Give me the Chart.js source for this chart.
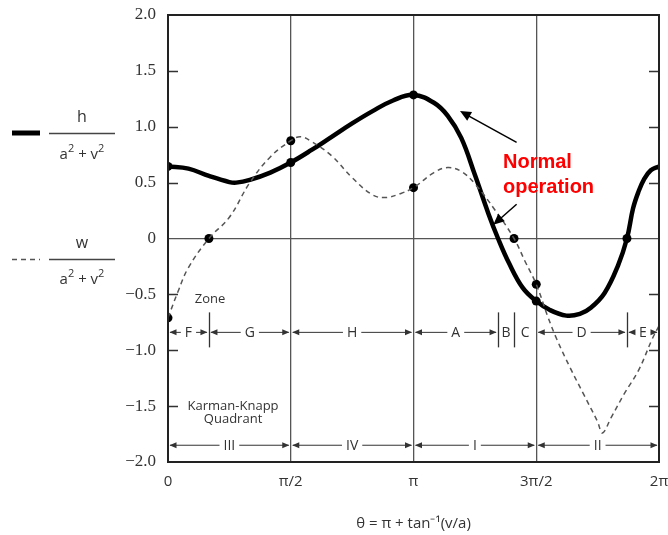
<!DOCTYPE html>
<html>
<head>
<meta charset="utf-8">
<script src="https://cdn.jsdelivr.net/npm/chart.js@4.4.0/dist/chart.umd.min.js"></script>
<style>
  html, body { margin: 0; padding: 0; background: #fff; }
  canvas { display: block; }
</style>
</head>
<body>
<canvas id="chart" width="668" height="535"></canvas>
<script>
// theta is kept in degrees: 0..360 stands for 0..2π
const hTheta = [0, 15, 30, 45, 50, 60, 75, 90, 105, 120, 135, 150, 165, 180, 195, 205, 215, 225, 235, 242, 250, 260, 270, 280, 292, 302, 310, 320, 330, 336.5, 341, 345, 349, 354, 360];
const hValues = [0.645, 0.625, 0.56, 0.505, 0.5, 0.525, 0.59, 0.68, 0.79, 0.91, 1.03, 1.14, 1.235, 1.285, 1.215, 1.1, 0.9, 0.57, 0.22, 0, -0.22, -0.44, -0.56, -0.64, -0.69, -0.675, -0.62, -0.49, -0.24, 0, 0.27, 0.42, 0.53, 0.61, 0.645];

const wTheta = [0, 7.5, 15, 30, 45, 60, 75, 90, 97, 105, 120, 135, 150, 160, 170, 180, 195, 205, 215, 225, 240, 253.7, 262, 270, 278.5, 285, 295, 305, 315, 318.5, 325, 335, 345, 355, 360];
const wValues = [-0.71, -0.47, -0.26, 0, 0.19, 0.5, 0.73, 0.875, 0.91, 0.87, 0.74, 0.545, 0.39, 0.367, 0.4, 0.455, 0.59, 0.635, 0.6, 0.49, 0.25, 0, -0.21, -0.41, -0.7, -0.9, -1.16, -1.4, -1.64, -1.74, -1.6, -1.38, -1.18, -0.9, -0.78];

// marked points
const hDotTheta = [0, 90, 180, 270, 336.5];
const hDotValues = [0.645, 0.68, 1.285, -0.56, 0];
const wDotTheta = [0, 30, 90, 180, 253.7, 270];
const wDotValues = [-0.71, 0, 0.875, 0.455, 0, -0.41];

const xTickLabels = ["0", "π/2", "π", "3π/2", "2π"];
const yTickLabels = ["−2.0", "−1.5", "−1.0", "−0.5", "0", "0.5", "1.0", "1.5", "2.0"];

// zone and quadrant bands along the bottom
const zoneEdges = [0, 30, 90, 180, 242, 253.7, 270, 336.5, 360];
const zoneNames = ["F", "G", "H", "A", "B", "C", "D", "E"];
const zoneRow = -0.84;
const quadrantEdges = [0, 90, 180, 270, 360];
const quadrantNames = ["III", "IV", "I", "II"];
const quadrantRow = -1.85;

const toXY = (xs, ys) => xs.map((x, i) => ({ x: x, y: ys[i] }));

function arrowHead(ctx, tx, ty, dx, dy, len, hw) {
  const m = Math.hypot(dx, dy);
  const ux = dx / m, uy = dy / m;
  ctx.beginPath();
  ctx.moveTo(tx, ty);
  ctx.lineTo(tx - ux * len - uy * hw, ty - uy * len + ux * hw);
  ctx.lineTo(tx - ux * len + uy * hw, ty - uy * len - ux * hw);
  ctx.closePath();
  ctx.fill();
}

function drawBand(ctx, xs, y, edges, names, tickEdges) {
  ctx.save();
  ctx.font = '14px "Open Sans", sans-serif';
  ctx.textAlign = "center";
  ctx.textBaseline = "middle";
  ctx.strokeStyle = "#333";
  ctx.fillStyle = "#333";
  ctx.lineWidth = 1;
  for (let i = 0; i < names.length; i++) {
    const x0 = xs.getPixelForValue(edges[i]);
    const x1 = xs.getPixelForValue(edges[i + 1]);
    const cx = (x0 + x1) / 2;
    const tw = ctx.measureText(names[i]).width;
    ctx.fillText(names[i], cx, y + 1);
    const gap = 4;
    const left = cx - tw / 2 - gap;
    const right = cx + tw / 2 + gap;
    if (left - x0 > 4) {
      ctx.beginPath();
      ctx.moveTo(x0 + 2, y);
      ctx.lineTo(left, y);
      ctx.stroke();
      arrowHead(ctx, x0 + 1.5, y, -1, 0, 7, 3);
    }
    if (x1 - right > 4) {
      ctx.beginPath();
      ctx.moveTo(right, y);
      ctx.lineTo(x1 - 2, y);
      ctx.stroke();
      arrowHead(ctx, x1 - 1.5, y, 1, 0, 7, 3);
    }
  }
  ctx.lineWidth = 1.3;
  tickEdges.forEach((e) => {
    const x = Math.round(xs.getPixelForValue(e)) + 0.5;
    ctx.beginPath();
    ctx.moveTo(x, y - 20);
    ctx.lineTo(x, y + 15);
    ctx.stroke();
  });
  ctx.restore();
}

// "a² + v²" with real raised exponents
function denominator(ctx, cx, y) {
  const big = '15px "Open Sans", sans-serif';
  const small = '11px "Open Sans", sans-serif';
  const parts = [["a", big, 0], ["2", small, -6], [" + v", big, 0], ["2", small, -6]];
  let total = 0;
  parts.forEach((p) => { ctx.font = p[1]; total += ctx.measureText(p[0]).width; });
  let x = cx - total / 2;
  ctx.textAlign = "left";
  parts.forEach((p) => {
    ctx.font = p[1];
    ctx.fillText(p[0], x, y + p[2]);
    x += ctx.measureText(p[0]).width;
  });
}

const overlay = {
  id: "overlay",
  afterDatasetsDraw(chart) {
    const ctx = chart.ctx;
    const xs = chart.scales.x;
    const ys = chart.scales.y;
    const a = chart.chartArea;

    // inward ticks on both sides
    ctx.save();
    ctx.strokeStyle = "#333";
    ctx.lineWidth = 1.3;
    [-1.5, -1, -0.5, 0.5, 1, 1.5].forEach((v) => {
      const y = Math.round(ys.getPixelForValue(v)) + 0.5;
      ctx.beginPath();
      ctx.moveTo(a.left, y);
      ctx.lineTo(a.left + 10, y);
      ctx.moveTo(a.right, y);
      ctx.lineTo(a.right - 10, y);
      ctx.stroke();
    });
    ctx.restore();

    // zones and quadrants
    drawBand(ctx, xs, ys.getPixelForValue(zoneRow), zoneEdges, zoneNames, [30, 242, 253.7, 336.5]);
    drawBand(ctx, xs, ys.getPixelForValue(quadrantRow), quadrantEdges, quadrantNames, []);

    ctx.save();
    ctx.fillStyle = "#333";
    ctx.font = '13px "Open Sans", sans-serif';
    ctx.textAlign = "center";
    ctx.textBaseline = "middle";
    ctx.fillText("Zone", xs.getPixelForValue(30.8), ys.getPixelForValue(-0.54));
    ctx.fillText("Karman-Knapp", xs.getPixelForValue(47.7), ys.getPixelForValue(-1.5));
    ctx.fillText("Quadrant", xs.getPixelForValue(47.7), ys.getPixelForValue(-1.62));
    ctx.restore();

    // frame
    ctx.save();
    ctx.strokeStyle = "#222";
    ctx.lineWidth = 2;
    ctx.strokeRect(a.left, a.top, a.right - a.left, a.bottom - a.top);
    ctx.restore();

    // annotation
    ctx.save();
    ctx.fillStyle = "#ff0000";
    ctx.font = 'bold 20px "Liberation Sans", Arial, sans-serif';
    ctx.textAlign = "left";
    ctx.textBaseline = "alphabetic";
    ctx.fillText("Normal", xs.getPixelForValue(245.6), ys.getPixelForValue(0.632));
    ctx.fillText("operation", xs.getPixelForValue(245.6), ys.getPixelForValue(0.41));
    ctx.strokeStyle = "#000";
    ctx.fillStyle = "#000";
    ctx.lineWidth = 1.5;
    [[255.6, 0.86, 214.1, 1.14], [255.6, 0.307, 238.5, 0.122]].forEach((p) => {
      const x0 = xs.getPixelForValue(p[0]), y0 = ys.getPixelForValue(p[1]);
      const x1 = xs.getPixelForValue(p[2]), y1 = ys.getPixelForValue(p[3]);
      ctx.beginPath();
      ctx.moveTo(x0, y0);
      ctx.lineTo(x1 + (x0 - x1) * 0.15, y1 + (y0 - y1) * 0.15);
      ctx.stroke();
      arrowHead(ctx, x1, y1, x1 - x0, y1 - y0, 11, 5);
    });
    ctx.restore();
  },
  afterDraw(chart) {
    // left-hand key
    const ctx = chart.ctx;
    ctx.save();
    ctx.strokeStyle = "#000";
    ctx.lineWidth = 5;
    ctx.beginPath();
    ctx.moveTo(12, 133);
    ctx.lineTo(40, 133);
    ctx.stroke();
    ctx.strokeStyle = "#555";
    ctx.lineWidth = 1.5;
    ctx.setLineDash([5, 4]);
    ctx.beginPath();
    ctx.moveTo(12, 259.5);
    ctx.lineTo(40, 259.5);
    ctx.stroke();
    ctx.setLineDash([]);
    ctx.strokeStyle = "#444";
    ctx.lineWidth = 1.3;
    [133.5, 259.5].forEach((y) => {
      ctx.beginPath();
      ctx.moveTo(49, y);
      ctx.lineTo(115, y);
      ctx.stroke();
    });
    ctx.fillStyle = "#333";
    ctx.font = '16px "Open Sans", sans-serif';
    ctx.textAlign = "center";
    ctx.textBaseline = "middle";
    ctx.fillText("h", 82, 117);
    ctx.fillText("w", 82, 243);
    denominator(ctx, 82, 155);
    denominator(ctx, 82, 280);
    ctx.restore();
  },
};

new Chart(document.getElementById("chart"), {
  type: "line",
  data: {
    datasets: [
      {
        data: toXY(wTheta, wValues),
        borderColor: "#555",
        borderWidth: 1.5,
        borderDash: [5, 4],
        pointRadius: 0,
        tension: 0.4,
      },
      {
        data: toXY(hTheta, hValues),
        borderColor: "#000",
        borderWidth: 4.5,
        pointRadius: 0,
        tension: 0.4,
      },
      {
        data: toXY(hDotTheta, hDotValues),
        showLine: false,
        pointRadius: 4.5,
        pointBackgroundColor: "#000",
        pointBorderWidth: 0,
      },
      {
        data: toXY(wDotTheta, wDotValues),
        showLine: false,
        pointRadius: 4.5,
        pointBackgroundColor: "#000",
        pointBorderWidth: 0,
      },
    ],
  },
  options: {
    responsive: false,
    animation: false,
    devicePixelRatio: 1,
    layout: { padding: { top: 15, right: 9, left: 0, bottom: 0 } },
    plugins: { legend: { display: false }, tooltip: { enabled: false } },
    scales: {
      x: {
        type: "linear",
        min: 0,
        max: 360,
        afterFit: (s) => {
          s.height = 73;
          s.paddingLeft = 0;
          s.paddingRight = 0;
        },
        afterBuildTicks: (s) => { s.ticks = [0, 90, 180, 270, 360].map((v) => ({ value: v })); },
        ticks: {
          padding: 11,
          color: "#333",
          font: { family: '"Open Sans", sans-serif', size: 15 },
          callback: (v) => xTickLabels[Math.round(v / 90)],
        },
        grid: {
          drawTicks: false,
          lineWidth: 1.3,
          color: (c) => (c.tick && c.tick.value > 0 && c.tick.value < 360 ? "#555" : "rgba(0,0,0,0)"),
        },
        border: { display: false },
        title: {
          display: true,
          text: "θ = π + tan⁻¹(v/a)",
          color: "#333",
          font: { family: '"Open Sans", sans-serif', size: 15 },
          padding: { top: 0, bottom: 2 },
        },
      },
      y: {
        min: -2,
        max: 2,
        afterFit: (s) => {
          s.width = 168;
          s.paddingTop = 0;
          s.paddingBottom = 0;
        },
        ticks: {
          stepSize: 0.5,
          padding: 12,
          color: "#333",
          font: { family: '"Liberation Serif", serif', size: 17 },
          callback: (v) => yTickLabels[Math.round((v + 2) * 2)],
        },
        grid: {
          drawTicks: false,
          lineWidth: 1.3,
          color: (c) => (c.tick && c.tick.value === 0 ? "#555" : "rgba(0,0,0,0)"),
        },
        border: { display: false },
      },
    },
  },
  plugins: [overlay],
});
</script>
</body>
</html>
